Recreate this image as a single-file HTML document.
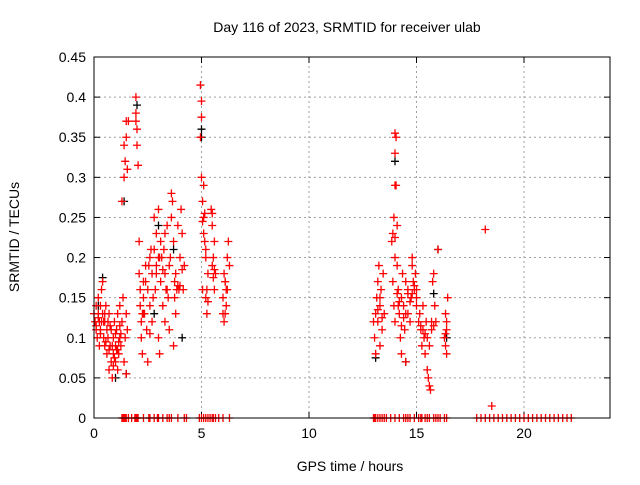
<!DOCTYPE html>
<html><head><meta charset="utf-8"><style>
body{margin:0;background:#fff}
svg{font-family:"Liberation Sans",sans-serif}
</style></head><body>
<svg id="c" width="640" height="480">
<text x="347" y="32" font-size="14" text-anchor="middle">Day 116 of 2023, SRMTID for receiver ulab</text>
<text x="350" y="471" font-size="14" text-anchor="middle">GPS time / hours</text>
<text transform="translate(19,237) rotate(-90)" font-size="14" text-anchor="middle">SRMTID / TECUs</text>
<g id="grid"></g><g id="ticks"></g><g id="blk"></g><g id="red"></g>
<rect x="94" y="57" width="516" height="361" fill="none" stroke="#000" stroke-width="1"/>
</svg>
<script>
const xTicks=[0,5,10,15,20];
const yTicks=[0,0.05,0.1,0.15,0.2,0.25,0.3,0.35,0.4,0.45];
const yTickLabels=["0","0.05","0.1","0.15","0.2","0.25","0.3","0.35","0.4","0.45"];
const redHours=[0.0,0.05,0.1,0.1,0.15,0.2,0.2,0.25,0.3,0.3,0.35,0.4,0.4,0.45,0.5,0.5,0.55,0.6,0.6,0.65,0.7,0.7,0.75,0.8,0.8,0.85,0.9,0.9,0.95,1.0,1.0,1.05,1.1,1.1,1.15,1.2,1.2,1.25,1.3,1.35,1.4,1.45,1.5,1.5,1.55,
1.3,1.4,1.45,1.5,1.5,1.55,1.6,1.4,
1.95,1.95,2.0,2.0,2.05,1.95,2.1,2.1,2.15,2.2,2.2,2.25,2.3,2.3,2.35,2.4,2.45,2.5,2.5,2.6,2.6,2.7,2.7,2.8,2.8,2.85,2.9,2.9,3.0,3.0,3.05,3.1,3.1,3.15,3.2,3.25,3.3,3.3,3.4,3.4,3.5,3.5,3.6,3.6,3.65,3.7,3.7,3.75,3.8,3.8,3.85,3.9,3.95,4.0,4.05,4.1,4.15,4.2,
4.95,5.0,5.0,4.95,5.0,5.05,5.1,5.1,5.15,5.2,5.2,5.25,5.3,5.1,5.05,5.45,5.5,5.5,5.55,5.55,5.6,5.6,5.5,6.0,6.0,6.05,6.1,6.15,6.2,6.25,6.3,6.05,6.15,
13.0,13.05,13.1,13.1,13.15,13.2,13.2,13.25,13.3,13.35,13.4,13.45,13.5,13.3,
13.85,13.9,13.95,14.0,14.0,14.05,14.05,14.0,14.0,14.1,13.9,13.95,14.0,14.1,14.15,14.2,14.25,14.3,14.3,14.35,14.4,14.45,14.5,14.5,14.6,14.6,14.7,14.75,14.8,14.8,14.85,14.9,14.95,15.0,15.0,
15.1,15.15,15.2,15.25,15.3,15.35,15.4,15.45,15.5,15.55,15.6,15.65,15.6,15.7,15.75,15.8,15.85,15.9,16.0,16.3,16.35,16.4,16.35,16.4,16.45,16.4,
18.2,18.5,
0.1,0.2,0.3,0.45,0.55,0.7,0.75,0.85,0.95,1.05,1.15,1.25,0.65,0.9,1.0,1.1,1.2,0.5,0.35,0.25,
2.15,2.25,2.4,2.55,2.65,2.75,2.9,3.05,3.2,3.35,3.45,3.55,3.75,3.9,4.0,4.1,2.3,2.6,3.0,3.3,
5.15,5.2,5.25,5.6,5.65,6.1,6.2,6.1,5.05,5.3,
13.2,13.3,13.4,14.0,14.1,14.2,14.3,14.4,14.6,14.7,14.8,14.9,15.0,15.2,15.3,15.4,15.5,15.7,15.8,16.35,14.5,14.15];
const redValues=[.13,.12,.11,.14,.10,.13,.15,.12,.14,.11,.16,.17,.13,.10,.12,.09,.14,.11,.08,.10,.06,.13,.09,.07,.11,.05,.08,.10,.12,.07,.09,.11,.06,.13,.08,.10,.14,.09,.12,.15,.07,.10,.13,.055,.11,
.27,.30,.32,.35,.37,.31,.37,.34,
.40,.37,.36,.34,.315,.38,.22,.18,.14,.12,.10,.08,.15,.17,.13,.19,.11,.07,.16,.20,.14,.12,.18,.21,.25,.16,.19,.23,.26,.10,.08,.22,.17,.20,.14,.21,.12,.18,.16,.24,.19,.11,.25,.28,.27,.22,.09,.15,.18,.13,.16,.24,.16,.20,.26,.23,.16,.19,
.415,.395,.375,.35,.30,.27,.29,.25,.22,.20,.15,.13,.18,.23,.16,.26,.255,.24,.20,.175,.16,.22,.19,.15,.13,.18,.17,.16,.20,.22,.19,.12,.14,
.12,.10,.08,.13,.15,.17,.12,.19,.14,.16,.11,.18,.13,.09,
.22,.23,.25,.29,.355,.35,.29,.33,.20,.24,.17,.14,.12,.19,.16,.13,.10,.08,.15,.18,.14,.11,.17,.07,.16,.13,.12,.15,.19,.20,.17,.16,.18,.15,.14,
.12,.13,.11,.09,.14,.10,.08,.12,.06,.05,.04,.035,.09,.11,.17,.18,.14,.12,.21,.10,.13,.12,.09,.08,.15,.11,
.235,.015,
.115,.125,.105,.12,.095,.085,.115,.09,.075,.085,.095,.105,.12,.065,.105,.085,.115,.13,.12,.09,
.16,.13,.17,.19,.21,.15,.18,.2,.185,.16,.15,.2,.17,.165,.165,.185,.13,.105,.2,.23,
.255,.21,.16,.185,.18,.17,.16,.13,.245,.145,
.135,.15,.125,.225,.155,.145,.115,.125,.155,.145,.155,.165,.16,.115,.11,.105,.1,.12,.115,.105,.13,.14];
const zeroHours=[1.3,1.35,1.4,1.45,1.5,1.6,1.75,1.9,1.95,2.0,2.05,2.3,2.55,2.6,2.8,2.95,3.0,3.2,3.4,3.5,3.6,3.9,4.2,4.3,4.9,5.0,5.1,5.2,5.3,5.4,5.5,5.55,5.65,5.8,6.0,6.3,13.0,13.05,13.1,13.2,13.3,13.4,13.5,13.6,13.8,14.0,14.2,14.4,14.5,14.6,14.7,14.9,15.1,15.2,15.25,15.4,15.5,15.6,15.8,15.9,16.0,16.1,16.3,16.4,17.8,18.0,18.2,18.4,18.6,18.8,19.0,19.2,19.4,19.6,19.8,20.0,20.2,20.4,20.6,20.8,21.0,21.2,21.4,21.6,21.8,22.0,22.2];
const blackHours=[0.4,1.0,1.5,2.0,3.0,3.7,5.0,5.0,13.1,14.0,14.5,16.0,16.4,15.8,2.8,4.1,1.4,0.2];
const blackValues=[.175,.05,.055,.39,.24,.21,.36,.35,.075,.32,.07,.21,.10,.155,.13,.10,.27,.14];
const NS="http://www.w3.org/2000/svg";
const X0=94,X1=610,Y0=418,Y1=57,XMAX=24,YMAX=0.45;
function xs(h){return X0+(X1-X0)*h/XMAX;}
function ys(v){return Y0-(Y0-Y1)*v/YMAX;}
function mk(tag,at,parent){const e=document.createElementNS(NS,tag);for(const k in at)e.setAttribute(k,at[k]);parent.appendChild(e);return e;}
const grid=document.getElementById('grid'),ticks=document.getElementById('ticks');
xTicks.forEach(t=>{const x=xs(t);
 if(t>0){const g=mk('line',{x1:x,x2:x,y1:Y0,y2:Y1,stroke:'#a0a0a0','stroke-dasharray':'2,3'},grid);
 
 }
 mk('line',{x1:x,x2:x,y1:Y0,y2:Y0-6,stroke:'#000'},ticks);mk('line',{x1:x,x2:x,y1:Y1,y2:Y1+6,stroke:'#000'},ticks);
 const l=mk('text',{x:x,y:Y0+20,'font-size':14,'text-anchor':'middle'},ticks);l.textContent=t;
 
 });
yTicks.forEach((t,i)=>{const y=ys(t);
 if(t>0&&t<YMAX){const g=mk('line',{x1:X0,x2:X1,y1:y,y2:y,stroke:'#a0a0a0','stroke-dasharray':'2,3'},grid);
 
 }
 mk('line',{x1:X0,x2:X0+6,y1:y,y2:y,stroke:'#000'},ticks);mk('line',{x1:X1,x2:X1-6,y1:y,y2:y,stroke:'#000'},ticks);
 const l=mk('text',{x:X0-8,y:y+5,'font-size':14,'text-anchor':'end'},ticks);l.textContent=yTickLabels[i];
 
 });
function plus(h,v,col,parent){const x=xs(h),y=ys(v);
 const p=mk('path',{d:`M${x-4} ${y}H${x+4}M${x} ${y-4}V${y+4}`,stroke:col,'stroke-width':1.3,fill:'none'},parent);
 
 }
const blk=document.getElementById('blk'),red=document.getElementById('red');
blackHours.forEach((h,i)=>plus(h,blackValues[i],'#000',blk));
redHours.forEach((h,i)=>plus(h,redValues[i],'#f00',red));
zeroHours.forEach(h=>plus(h,0,'#f00',red));
</script>
</body></html>
